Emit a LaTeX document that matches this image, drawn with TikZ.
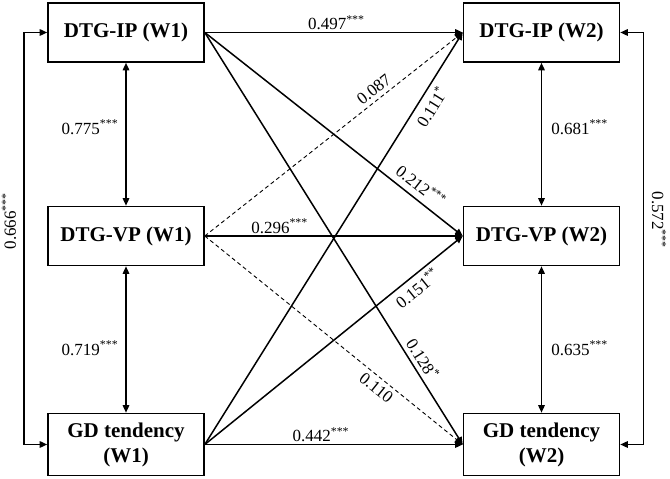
\documentclass[tikz,border=0pt]{standalone}
\usepackage{fontspec}
\setmainfont{Liberation Serif}
\usetikzlibrary{arrows.meta,calc}
\newcommand{\sig}[1]{\textsuperscript{#1}}
\begin{document}
\begin{tikzpicture}[x=1pt,y=1pt,
  box/.style={draw, line width=1.6pt, minimum width=156pt, minimum height=59pt, align=center, inner sep=2pt, font=\fontsize{21}{25}\selectfont\bfseries},
  tip/.style={},
  arr/.style={line width=1.5pt, -{Triangle[length=7.5pt,width=6.5pt]}},
  darr/.style={line width=0.9pt, dash pattern=on 4pt off 3pt, -{Triangle[length=8pt,width=7pt]}},
  dbl/.style={line width=1.5pt, {Triangle[length=7.5pt,width=6.5pt]}-{Triangle[length=7.5pt,width=6.5pt]}},
  lab/.style={font=\fontsize{17}{20}\selectfont, inner sep=2pt}]
\useasboundingbox (0,0) rectangle (670,479);
\node[box] (IP1) at (126,446.5) {DTG-IP (W1)};
\node[box] (VP1) at (126,243) {DTG-VP (W1)};
\node[box, minimum height=62pt] (GD1) at (126,34.5) {GD tendency\\(W1)};
\node[box] (IP2) at (541.5,446.5) {DTG-IP (W2)};
\node[box] (VP2) at (541.5,243) {DTG-VP (W2)};
\node[box, minimum height=62pt] (GD2) at (541.5,34.5) {GD tendency\\(W2)};
% horizontal paths
\draw[arr] (IP1.east) -- node[lab, above, pos=0.51] {0.497\sig{***}} (IP2.west);
\draw[arr] (VP1.east) -- node[lab, above, pos=0.29] {0.296\sig{***}} (VP2.west);
\draw[arr] (GD1.east) -- node[lab, above, pos=0.45] {0.442\sig{***}} (GD2.west);
% diagonal paths
\draw[darr] (VP1.east) -- node[lab, sloped, above=2pt, pos=0.68] {0.087} (IP2.west);
\draw[arr] (GD1.east) -- node[lab, sloped, below=3pt, pos=0.836] {0.111\sig{*}} (IP2.west);
\draw[arr] (IP1.east) -- node[lab, sloped, above=4pt, pos=0.805] {0.212\sig{***}} (VP2.west);
\draw[arr] (GD1.east) -- node[lab, sloped, below=2pt, pos=0.794] {0.151\sig{**}} (VP2.west);
\draw[arr] (IP1.east) -- node[lab, sloped, above=2pt, pos=0.807] {0.128\sig{*}} (GD2.west);
\draw[darr] (VP1.east) -- node[lab, sloped, below=2pt, pos=0.69] {0.110} (GD2.west);
% correlations within wave
\draw[dbl] (IP1.south) -- node[lab, left=5pt, pos=0.45] {0.775\sig{***}} (VP1.north);
\draw[dbl] (VP1.south) -- node[lab, left=5pt, pos=0.56] {0.719\sig{***}} (GD1.north);
\draw[dbl] (IP2.south) -- node[lab, right=7pt, pos=0.45] {0.681\sig{***}} (VP2.north);
\draw[dbl] (VP2.south) -- node[lab, right=7pt, pos=0.56] {0.635\sig{***}} (GD2.north);
% outer correlations
\draw[dbl] (IP1.west) -- ++(-23,0) coordinate (la) |- (GD1.west);
\node[lab, rotate=90] (L666) at (9,258) {0.666\sig{***}};
\draw[dbl] (IP2.east) -- ++(23,0) coordinate (ra) |- (GD2.east);
\node[lab, rotate=-90] (L572) at (659,259) {0.572\sig{***}};
\end{tikzpicture}
\end{document}
